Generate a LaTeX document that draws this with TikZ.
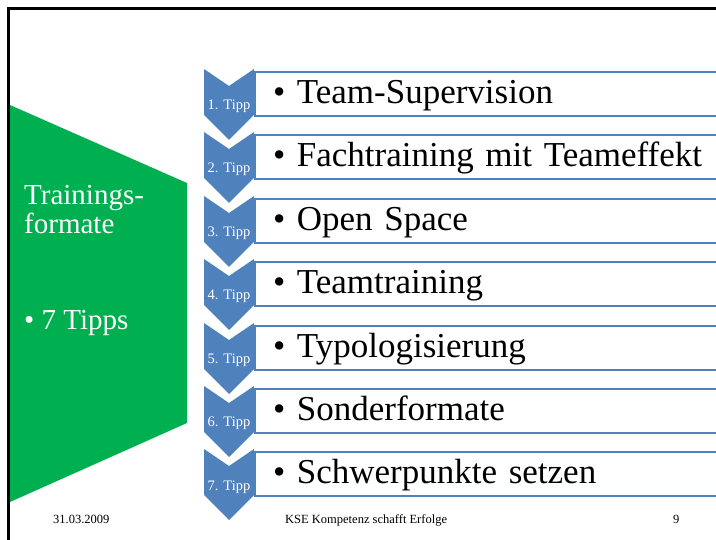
\documentclass[tikz,border=0pt]{standalone}
\usepackage{fontspec}
\setmainfont{Liberation Serif}
\usetikzlibrary{positioning}
\definecolor{cTipp}{RGB}{79,129,189}
\definecolor{cFormat}{RGB}{0,176,80}

\begin{document}
\begin{tikzpicture}[
  x=1pt, y=-1pt,
  bar/.style={draw=cTipp, line width=2pt, fill=white, anchor=north west,
    minimum height=44, text width=440, inner xsep=18, align=left,
    text height=26, text depth=6, font=\fontsize{35}{35}\selectfont},
  chev/.style={fill=cTipp},
  tipp/.style={anchor=base, text=white, inner sep=0pt,
    font=\fontsize{14.5}{14.5}\selectfont},
  side/.style={anchor=base west, text=white, inner sep=0pt, align=left,
    font=\fontsize{29}{29}\selectfont},
  foot/.style={anchor=base west, inner sep=0pt,
    font=\fontsize{12.5}{12.5}\selectfont},
]
\useasboundingbox (0,0) rectangle (716,540);
\clip (0,0) rectangle (716,540);

% Slide frame.
\draw[line width=2.5pt] (8.5,560) -- (8.5,8.5) -- (730,8.5);

% Left panel.
\fill[cFormat] (10,105) -- (187,183) -- (187,423) -- (10,502) -- cycle;
\node[side] (title) at (24,205) {Trainings-};
\node[side] (title2) at (24,234) {formate};
\node[side] (count) at (24,330) {\textbullet\ 7 Tipps};

% Chevrons.
\fill[chev] (204,69) -- (229,86) -- (254,69) -- (254,115) -- (229,140) -- (204,115) -- cycle;
\fill[chev] (204,132) -- (229,149) -- (254,132) -- (254,178) -- (229,203) -- (204,178) -- cycle;
\fill[chev] (204,196) -- (229,213) -- (254,196) -- (254,242) -- (229,267) -- (204,242) -- cycle;
\fill[chev] (204,259) -- (229,276) -- (254,259) -- (254,305) -- (229,330) -- (204,305) -- cycle;
\fill[chev] (204,323) -- (229,340) -- (254,323) -- (254,369) -- (229,394) -- (204,369) -- cycle;
\fill[chev] (204,386) -- (229,403) -- (254,386) -- (254,432) -- (229,457) -- (204,432) -- cycle;
\fill[chev] (204,449) -- (229,466) -- (254,449) -- (254,495) -- (229,520) -- (204,495) -- cycle;

\node[tipp] (t1) at (229,110) {1. Tipp};
\node[tipp] (t2) at (229,173) {2. Tipp};
\node[tipp] (t3) at (229,237) {3. Tipp};
\node[tipp] (t4) at (229,300) {4. Tipp};
\node[tipp] (t5) at (229,364) {5. Tipp};
\node[tipp] (t6) at (229,427) {6. Tipp};
\node[tipp] (t7) at (229,490) {7. Tipp};

% Tip bars.
\node[bar] (b1) at (254,71) {\textbullet\ Team-Supervision};
\node[bar] (b2) at (254,134) {\textbullet\ Fachtraining mit Teameffekt};
\node[bar] (b3) at (254,198) {\textbullet\ Open Space};
\node[bar] (b4) at (254,261) {\textbullet\ Teamtraining};
\node[bar] (b5) at (254,325) {\textbullet\ Typologisierung};
\node[bar] (b6) at (254,388) {\textbullet\ Sonderformate};
\node[bar] (b7) at (254,451) {\textbullet\ Schwerpunkte setzen};

% Footer.
\node[foot] (date) at (53,523) {31.03.2009};
\node[foot] (brand) at (285,523) {KSE Kompetenz schafft Erfolge};
\node[foot] (page) at (673,523) {9};

\end{tikzpicture}
\end{document}
